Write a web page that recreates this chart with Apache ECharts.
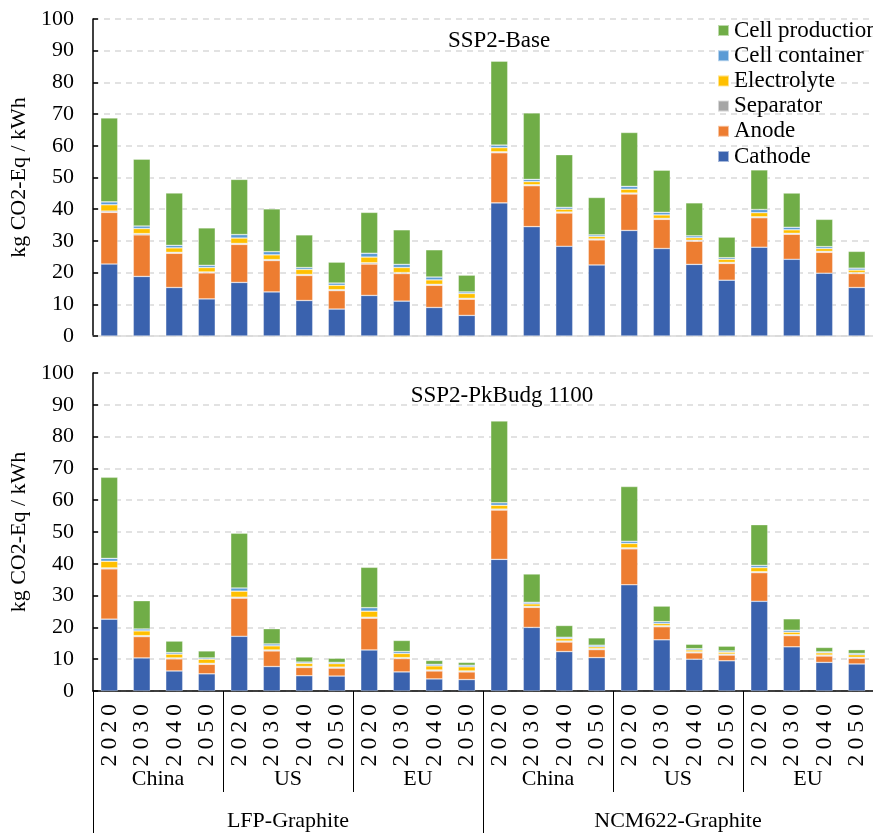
<!DOCTYPE html>
<html>
<head>
<meta charset="utf-8">
<script src="https://cdn.jsdelivr.net/npm/echarts@6/dist/echarts.min.js"></script>
<style>
html,body{margin:0;padding:0;background:#fff;}
#chart{width:873px;height:833px;}
</style>
</head>
<body>
<div id="chart"></div>
<script>
// ---- Data ----
var chemistries = ['LFP-Graphite', 'NCM622-Graphite'];
var regions = ['China', 'US', 'EU'];
var years = ['2020', '2030', '2040', '2050'];
var scenarios = ['SSP2-Base', 'SSP2-PkBudg 1100'];
var components = ['Cathode', 'Anode', 'Separator', 'Electrolyte', 'Cell container', 'Cell production'];
var legendOrder = ['Cell production', 'Cell container', 'Electrolyte', 'Separator', 'Anode', 'Cathode'];
var yTicks = [0, 10, 20, 30, 40, 50, 60, 70, 80, 90, 100];

// SSP2-Base (24 bars: LFP China/US/EU x 2020..2050, then NCM622)
var baseCathode     = [22.7, 18.8, 15.3, 11.7, 16.9, 13.9, 11.2, 8.5, 12.8, 11.0, 9.0, 6.5,
                       42.0, 34.5, 28.3, 22.4, 33.3, 27.6, 22.6, 17.6, 28.0, 24.2, 19.8, 15.3];
var baseAnode       = [16.3, 13.1, 10.8, 8.2, 12.0, 9.9, 7.9, 5.8, 9.9, 8.7, 7.0, 5.1,
                       15.8, 12.9, 10.5, 7.9, 11.5, 9.2, 7.3, 5.3, 9.3, 7.9, 6.6, 4.4];
var baseSeparator   = [0.4, 0.4, 0.3, 0.3, 0.3, 0.3, 0.3, 0.3, 0.4, 0.3, 0.3, 0.3,
                       0.3, 0.3, 0.3, 0.3, 0.3, 0.3, 0.3, 0.3, 0.3, 0.3, 0.3, 0.3];
var baseElectrolyte = [2.0, 1.6, 1.4, 1.4, 1.7, 1.5, 1.6, 1.4, 1.8, 1.6, 1.4, 1.5,
                       1.3, 1.0, 0.9, 0.8, 1.2, 1.1, 0.8, 1.0, 1.3, 1.1, 0.9, 0.8];
var baseContainer   = [0.9, 0.8, 0.8, 0.7, 1.1, 1.0, 0.6, 0.7, 1.2, 1.0, 0.9, 0.5,
                       0.8, 0.7, 0.6, 0.5, 0.9, 0.8, 0.6, 0.5, 1.0, 0.8, 0.6, 0.6];
var baseCellProd    = [26.5, 21.1, 16.5, 11.8, 17.4, 13.5, 10.3, 6.6, 12.9, 10.9, 8.6, 5.3,
                       26.5, 21.0, 16.6, 11.8, 17.0, 13.3, 10.4, 6.5, 12.5, 10.8, 8.6, 5.3];

// SSP2-PkBudg 1100
var pkCathode     = [22.6, 10.4, 6.3, 5.4, 17.2, 7.7, 4.8, 4.7, 12.9, 6.0, 3.8, 3.6,
                     41.4, 20.0, 12.4, 10.5, 33.4, 16.1, 10.0, 9.5, 28.2, 13.9, 9.0, 8.5];
var pkAnode       = [15.8, 6.7, 3.8, 3.0, 12.0, 4.9, 2.6, 2.5, 10.0, 4.2, 2.5, 2.4,
                     15.5, 6.3, 3.0, 2.5, 11.3, 4.1, 2.0, 1.8, 9.0, 3.5, 2.0, 1.8];
var pkSeparator   = [0.3, 0.3, 0.3, 0.3, 0.3, 0.3, 0.3, 0.3, 0.3, 0.3, 0.3, 0.3,
                     0.3, 0.3, 0.3, 0.3, 0.3, 0.3, 0.3, 0.3, 0.3, 0.3, 0.3, 0.3];
var pkElectrolyte = [2.1, 1.5, 1.2, 1.3, 1.9, 1.3, 1.0, 1.1, 1.9, 1.3, 1.3, 1.3,
                     1.2, 0.8, 0.8, 0.6, 1.4, 0.7, 0.6, 0.6, 1.3, 0.8, 0.7, 0.8];
var pkContainer   = [0.9, 0.6, 0.5, 0.4, 1.0, 0.6, 0.4, 0.4, 1.1, 0.6, 0.5, 0.5,
                     0.8, 0.5, 0.4, 0.5, 0.7, 0.6, 0.4, 0.4, 0.7, 0.6, 0.3, 0.4];
var pkCellProd    = [25.5, 8.9, 3.6, 2.2, 17.2, 4.8, 1.6, 1.3, 12.7, 3.5, 1.2, 0.9,
                     25.7, 8.9, 3.7, 2.3, 17.2, 4.9, 1.4, 1.5, 12.8, 3.6, 1.4, 1.2];

var colors = {
  'Cathode': '#3A62AE',
  'Anode': '#ED7D31',
  'Separator': '#A5A5A5',
  'Electrolyte': '#FFC000',
  'Cell container': '#5B9BD5',
  'Cell production': '#70AD47'
};

// ---- Build categories ----
var categories = [];
chemistries.forEach(function (c) {
  regions.forEach(function (r) {
    years.forEach(function (y) { categories.push(c + '|' + r + '|' + y); });
  });
});
var regionCats = [];
chemistries.forEach(function (c) { regions.forEach(function (r) { regionCats.push(r); }); });

var seriesData = [
  [baseCathode, baseAnode, baseSeparator, baseElectrolyte, baseContainer, baseCellProd],
  [pkCathode, pkAnode, pkSeparator, pkElectrolyte, pkContainer, pkCellProd]
];

var FONT = '"Liberation Serif", "Times New Roman", serif';
var plotLeft = 93, plotWidth = 790;

var series = [];
[0, 1].forEach(function (g) {
  components.forEach(function (name, i) {
    series.push({
      name: name,
      type: 'bar',
      stack: 'panel' + g,
      xAxisIndex: g === 0 ? 0 : 1,
      yAxisIndex: g,
      barWidth: 17,
      data: seriesData[g][i],
      itemStyle: { color: colors[name], borderColor: 'rgba(255,255,255,0.55)', borderWidth: 0.6 },
      emphasis: { disabled: true },
      animation: false
    });
  });
});

function yAxis(g) {
  return {
    type: 'value', gridIndex: g, min: yTicks[0], max: yTicks[yTicks.length - 1], interval: 10,
    name: 'kg CO2-Eq / kWh', nameLocation: 'middle', nameGap: 54,
    nameTextStyle: { fontFamily: FONT, fontSize: 22, color: '#000' },
    axisLine: { show: true, lineStyle: { color: '#000', width: 1.5 } },
    axisTick: { show: true, inside: true, length: 5, lineStyle: { color: '#000', width: 1.5 } },
    axisLabel: { fontFamily: FONT, fontSize: 22, color: '#000', margin: 19 },
    splitLine: { show: true, lineStyle: { color: '#D9D9D9', width: 1.5, type: [6, 5] } }
  };
}

var option = {
  backgroundColor: '#fff',
  animation: false,
  title: [
    { text: scenarios[0], left: 494, top: 24, textAlign: 'center',
      textStyle: { fontFamily: FONT, fontSize: 23, fontWeight: 'normal', color: '#000' } },
    { text: scenarios[1], left: 497, top: 379, textAlign: 'center',
      textStyle: { fontFamily: FONT, fontSize: 23, fontWeight: 'normal', color: '#000' } }
  ],
  legend: {
    data: legendOrder,
    orient: 'vertical',
    left: 717, top: 19,
    padding: 0,
    itemWidth: 11, itemHeight: 11, itemGap: 2.2,
    icon: 'rect',
    selectedMode: false,
    textStyle: { fontFamily: FONT, fontSize: 23, color: '#000' }
  },
  grid: [
    { left: plotLeft, top: 19, width: plotWidth, height: 317 },
    { left: plotLeft, top: 373, width: plotWidth, height: 318 }
  ],
  xAxis: [
    { type: 'category', gridIndex: 0, data: categories,
      axisLine: { show: true, lineStyle: { color: '#D9D9D9', width: 1.5 } },
      axisTick: { show: false }, axisLabel: { show: false }, splitLine: { show: false } },
    { type: 'category', gridIndex: 1, data: categories, position: 'bottom',
      axisLine: { show: true, lineStyle: { color: '#000', width: 1.5 } },
      axisTick: { show: false },
      axisLabel: { interval: 0, rotate: 90, margin: 13, fontFamily: FONT, fontSize: 24, color: '#000',
        formatter: function (v) { return v.split('|')[2].split('').join('\u2009'); } } },
    { type: 'category', gridIndex: 1, data: regionCats, position: 'bottom',
      axisLine: { show: false },
      axisTick: { show: true, interval: 0, length: 101, lineStyle: { color: '#000', width: 1 } },
      axisLabel: { interval: 0, margin: 77, fontFamily: FONT, fontSize: 22, color: '#000' } },
    { type: 'category', gridIndex: 1, data: chemistries, position: 'bottom',
      axisLine: { show: false },
      axisTick: { show: true, interval: 0, length: 150, lineStyle: { color: '#000', width: 1 } },
      axisLabel: { interval: 0, margin: 119, fontFamily: FONT, fontSize: 22, color: '#000' } }
  ],
  yAxis: [yAxis(0), yAxis(1)],
  series: series
};

var chart = echarts.init(document.getElementById('chart'), null, { renderer: 'canvas' });
chart.setOption(option);
</script>
</body>
</html>
